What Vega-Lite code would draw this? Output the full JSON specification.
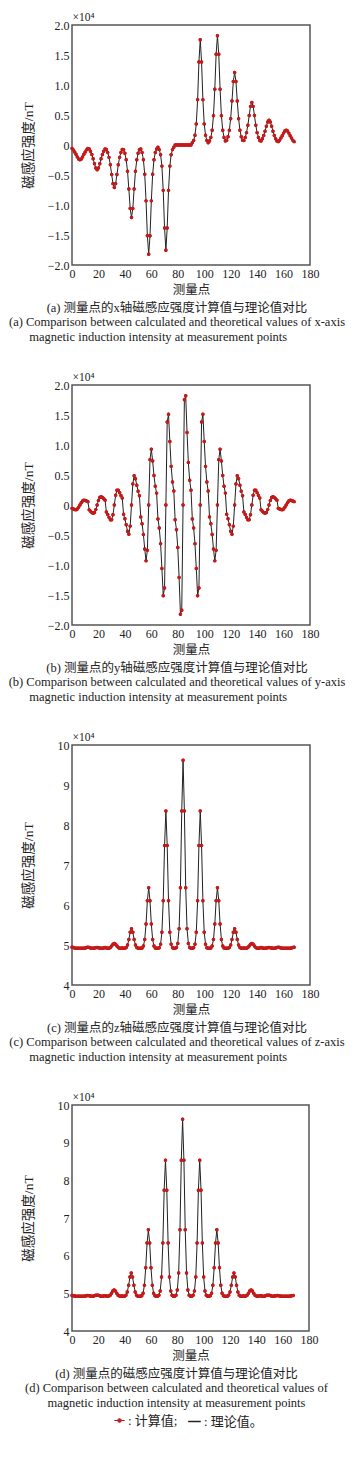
{
"$schema":"https://vega.github.io/schema/vega-lite/v6.json",
"padding":{"left":7,"top":10,"right":0,"bottom":0},
"autosize":{"type":"pad"},
"background":"white",
"bounds":"flush",
"spacing":120,
"datasets":{"m":[
{"p":0,"bx":-0.056,"by":-0.056,"bz":4.943,"bt":4.944},
{"p":1,"bx":-0.081,"by":-0.068,"bz":4.935,"bt":4.936},
{"p":2,"bx":-0.115,"by":-0.076,"bz":4.927,"bt":4.929},
{"p":3,"bx":-0.155,"by":-0.078,"bz":4.921,"bt":4.925},
{"p":4,"bx":-0.198,"by":-0.066,"bz":4.918,"bt":4.923},
{"p":5,"bx":-0.232,"by":-0.039,"bz":4.917,"bt":4.923},
{"p":6,"bx":-0.245,"by":0,"bz":4.917,"bt":4.924},
{"p":7,"bx":-0.232,"by":0.039,"bz":4.917,"bt":4.923},
{"p":8,"bx":-0.198,"by":0.066,"bz":4.918,"bt":4.923},
{"p":9,"bx":-0.155,"by":0.078,"bz":4.921,"bt":4.925},
{"p":10,"bx":-0.115,"by":0.076,"bz":4.927,"bt":4.929},
{"p":11,"bx":-0.081,"by":0.068,"bz":4.935,"bt":4.936},
{"p":12,"bx":-0.056,"by":0.056,"bz":4.943,"bt":4.944},
{"p":13,"bx":-0.068,"by":-0.081,"bz":4.935,"bt":4.936},
{"p":14,"bx":-0.104,"by":-0.104,"bz":4.925,"bt":4.928},
{"p":15,"bx":-0.157,"by":-0.125,"bz":4.919,"bt":4.923},
{"p":16,"bx":-0.229,"by":-0.137,"bz":4.918,"bt":4.925},
{"p":17,"bx":-0.312,"by":-0.125,"bz":4.923,"bt":4.934},
{"p":18,"bx":-0.383,"by":-0.077,"bz":4.931,"bt":4.947},
{"p":19,"bx":-0.411,"by":0,"bz":4.935,"bt":4.952},
{"p":20,"bx":-0.383,"by":0.077,"bz":4.931,"bt":4.947},
{"p":21,"bx":-0.312,"by":0.125,"bz":4.923,"bt":4.934},
{"p":22,"bx":-0.229,"by":0.137,"bz":4.918,"bt":4.925},
{"p":23,"bx":-0.157,"by":0.125,"bz":4.919,"bt":4.923},
{"p":24,"bx":-0.104,"by":0.104,"bz":4.925,"bt":4.928},
{"p":25,"bx":-0.068,"by":0.081,"bz":4.935,"bt":4.936},
{"p":26,"bx":-0.076,"by":-0.115,"bz":4.927,"bt":4.929},
{"p":27,"bx":-0.125,"by":-0.157,"bz":4.919,"bt":4.923},
{"p":28,"bx":-0.206,"by":-0.206,"bz":4.919,"bt":4.928},
{"p":29,"bx":-0.329,"by":-0.247,"bz":4.935,"bt":4.952},
{"p":30,"bx":-0.490,"by":-0.245,"bz":4.973,"bt":5.003},
{"p":31,"bx":-0.644,"by":-0.161,"bz":5.018,"bt":5.062},
{"p":32,"bx":-0.710,"by":0,"bz":5.040,"bt":5.090},
{"p":33,"bx":-0.644,"by":0.161,"bz":5.018,"bt":5.062},
{"p":34,"bx":-0.490,"by":0.245,"bz":4.973,"bt":5.003},
{"p":35,"bx":-0.329,"by":0.247,"bz":4.935,"bt":4.952},
{"p":36,"bx":-0.206,"by":0.206,"bz":4.919,"bt":4.928},
{"p":37,"bx":-0.125,"by":0.157,"bz":4.919,"bt":4.923},
{"p":38,"bx":-0.076,"by":0.115,"bz":4.927,"bt":4.929},
{"p":39,"bx":-0.078,"by":-0.155,"bz":4.921,"bt":4.925},
{"p":40,"bx":-0.137,"by":-0.229,"bz":4.918,"bt":4.925},
{"p":41,"bx":-0.247,"by":-0.329,"bz":4.935,"bt":4.952},
{"p":42,"bx":-0.439,"by":-0.439,"bz":5.000,"bt":5.038},
{"p":43,"bx":-0.733,"by":-0.489,"bz":5.137,"bt":5.212},
{"p":44,"bx":-1.057,"by":-0.352,"bz":5.317,"bt":5.433},
{"p":45,"bx":-1.210,"by":0,"bz":5.408,"bt":5.542},
{"p":46,"bx":-1.057,"by":0.352,"bz":5.317,"bt":5.433},
{"p":47,"bx":-0.733,"by":0.489,"bz":5.137,"bt":5.212},
{"p":48,"bx":-0.439,"by":0.439,"bz":5.000,"bt":5.038},
{"p":49,"bx":-0.247,"by":0.329,"bz":4.935,"bt":4.952},
{"p":50,"bx":-0.137,"by":0.229,"bz":4.918,"bt":4.925},
{"p":51,"bx":-0.078,"by":0.155,"bz":4.921,"bt":4.925},
{"p":52,"bx":-0.066,"by":-0.198,"bz":4.918,"bt":4.923},
{"p":53,"bx":-0.125,"by":-0.312,"bz":4.923,"bt":4.934},
{"p":54,"bx":-0.245,"by":-0.490,"bz":4.973,"bt":5.003},
{"p":55,"bx":-0.489,"by":-0.733,"bz":5.137,"bt":5.212},
{"p":56,"bx":-0.931,"by":-0.931,"bz":5.523,"bt":5.678},
{"p":57,"bx":-1.512,"by":-0.756,"bz":6.106,"bt":6.335},
{"p":58,"bx":-1.820,"by":0,"bz":6.433,"bt":6.686},
{"p":59,"bx":-1.512,"by":0.756,"bz":6.106,"bt":6.335},
{"p":60,"bx":-0.931,"by":0.931,"bz":5.523,"bt":5.678},
{"p":61,"bx":-0.489,"by":0.733,"bz":5.137,"bt":5.212},
{"p":62,"bx":-0.245,"by":0.490,"bz":4.973,"bt":5.003},
{"p":63,"bx":-0.125,"by":0.312,"bz":4.923,"bt":4.934},
{"p":64,"bx":-0.066,"by":0.198,"bz":4.918,"bt":4.923},
{"p":65,"bx":-0.039,"by":-0.232,"bz":4.917,"bt":4.923},
{"p":66,"bx":-0.077,"by":-0.383,"bz":4.931,"bt":4.947},
{"p":67,"bx":-0.161,"by":-0.644,"bz":5.018,"bt":5.062},
{"p":68,"bx":-0.352,"by":-1.057,"bz":5.317,"bt":5.433},
{"p":69,"bx":-0.756,"by":-1.512,"bz":6.106,"bt":6.335},
{"p":70,"bx":-1.382,"by":-1.382,"bz":7.487,"bt":7.737},
{"p":71,"bx":-1.754,"by":0,"bz":8.353,"bt":8.535},
{"p":72,"bx":-1.382,"by":1.382,"bz":7.487,"bt":7.737},
{"p":73,"bx":-0.756,"by":1.512,"bz":6.106,"bt":6.335},
{"p":74,"bx":-0.352,"by":1.057,"bz":5.317,"bt":5.433},
{"p":75,"bx":-0.161,"by":0.644,"bz":5.018,"bt":5.062},
{"p":76,"bx":-0.077,"by":0.383,"bz":4.931,"bt":4.947},
{"p":77,"bx":-0.039,"by":0.232,"bz":4.917,"bt":4.923},
{"p":78,"bx":0,"by":-0.245,"bz":4.917,"bt":4.924},
{"p":79,"bx":0,"by":-0.411,"bz":4.935,"bt":4.952},
{"p":80,"bx":0,"by":-0.710,"bz":5.040,"bt":5.090},
{"p":81,"bx":0,"by":-1.210,"bz":5.408,"bt":5.542},
{"p":82,"bx":0,"by":-1.820,"bz":6.433,"bt":6.686},
{"p":83,"bx":0,"by":-1.754,"bz":8.353,"bt":8.535},
{"p":84,"bx":0,"by":0,"bz":9.620,"bt":9.620},
{"p":85,"bx":0,"by":1.754,"bz":8.353,"bt":8.535},
{"p":86,"bx":0,"by":1.820,"bz":6.433,"bt":6.686},
{"p":87,"bx":0,"by":1.210,"bz":5.408,"bt":5.542},
{"p":88,"bx":0,"by":0.710,"bz":5.040,"bt":5.090},
{"p":89,"bx":0,"by":0.411,"bz":4.935,"bt":4.952},
{"p":90,"bx":0,"by":0.245,"bz":4.917,"bt":4.924},
{"p":91,"bx":0.039,"by":-0.232,"bz":4.917,"bt":4.923},
{"p":92,"bx":0.077,"by":-0.383,"bz":4.931,"bt":4.947},
{"p":93,"bx":0.161,"by":-0.644,"bz":5.018,"bt":5.062},
{"p":94,"bx":0.352,"by":-1.057,"bz":5.317,"bt":5.433},
{"p":95,"bx":0.756,"by":-1.512,"bz":6.106,"bt":6.335},
{"p":96,"bx":1.382,"by":-1.382,"bz":7.487,"bt":7.737},
{"p":97,"bx":1.754,"by":0,"bz":8.353,"bt":8.535},
{"p":98,"bx":1.382,"by":1.382,"bz":7.487,"bt":7.737},
{"p":99,"bx":0.756,"by":1.512,"bz":6.106,"bt":6.335},
{"p":100,"bx":0.352,"by":1.057,"bz":5.317,"bt":5.433},
{"p":101,"bx":0.161,"by":0.644,"bz":5.018,"bt":5.062},
{"p":102,"bx":0.077,"by":0.383,"bz":4.931,"bt":4.947},
{"p":103,"bx":0.039,"by":0.232,"bz":4.917,"bt":4.923},
{"p":104,"bx":0.066,"by":-0.198,"bz":4.918,"bt":4.923},
{"p":105,"bx":0.125,"by":-0.312,"bz":4.923,"bt":4.934},
{"p":106,"bx":0.245,"by":-0.490,"bz":4.973,"bt":5.003},
{"p":107,"bx":0.489,"by":-0.733,"bz":5.137,"bt":5.212},
{"p":108,"bx":0.931,"by":-0.931,"bz":5.523,"bt":5.678},
{"p":109,"bx":1.512,"by":-0.756,"bz":6.106,"bt":6.335},
{"p":110,"bx":1.820,"by":0,"bz":6.433,"bt":6.686},
{"p":111,"bx":1.512,"by":0.756,"bz":6.106,"bt":6.335},
{"p":112,"bx":0.931,"by":0.931,"bz":5.523,"bt":5.678},
{"p":113,"bx":0.489,"by":0.733,"bz":5.137,"bt":5.212},
{"p":114,"bx":0.245,"by":0.490,"bz":4.973,"bt":5.003},
{"p":115,"bx":0.125,"by":0.312,"bz":4.923,"bt":4.934},
{"p":116,"bx":0.066,"by":0.198,"bz":4.918,"bt":4.923},
{"p":117,"bx":0.078,"by":-0.155,"bz":4.921,"bt":4.925},
{"p":118,"bx":0.137,"by":-0.229,"bz":4.918,"bt":4.925},
{"p":119,"bx":0.247,"by":-0.329,"bz":4.935,"bt":4.952},
{"p":120,"bx":0.439,"by":-0.439,"bz":5.000,"bt":5.038},
{"p":121,"bx":0.733,"by":-0.489,"bz":5.137,"bt":5.212},
{"p":122,"bx":1.057,"by":-0.352,"bz":5.317,"bt":5.433},
{"p":123,"bx":1.210,"by":0,"bz":5.408,"bt":5.542},
{"p":124,"bx":1.057,"by":0.352,"bz":5.317,"bt":5.433},
{"p":125,"bx":0.733,"by":0.489,"bz":5.137,"bt":5.212},
{"p":126,"bx":0.439,"by":0.439,"bz":5.000,"bt":5.038},
{"p":127,"bx":0.247,"by":0.329,"bz":4.935,"bt":4.952},
{"p":128,"bx":0.137,"by":0.229,"bz":4.918,"bt":4.925},
{"p":129,"bx":0.078,"by":0.155,"bz":4.921,"bt":4.925},
{"p":130,"bx":0.076,"by":-0.115,"bz":4.927,"bt":4.929},
{"p":131,"bx":0.125,"by":-0.157,"bz":4.919,"bt":4.923},
{"p":132,"bx":0.206,"by":-0.206,"bz":4.919,"bt":4.928},
{"p":133,"bx":0.329,"by":-0.247,"bz":4.935,"bt":4.952},
{"p":134,"bx":0.490,"by":-0.245,"bz":4.973,"bt":5.003},
{"p":135,"bx":0.644,"by":-0.161,"bz":5.018,"bt":5.062},
{"p":136,"bx":0.710,"by":0,"bz":5.040,"bt":5.090},
{"p":137,"bx":0.644,"by":0.161,"bz":5.018,"bt":5.062},
{"p":138,"bx":0.490,"by":0.245,"bz":4.973,"bt":5.003},
{"p":139,"bx":0.329,"by":0.247,"bz":4.935,"bt":4.952},
{"p":140,"bx":0.206,"by":0.206,"bz":4.919,"bt":4.928},
{"p":141,"bx":0.125,"by":0.157,"bz":4.919,"bt":4.923},
{"p":142,"bx":0.076,"by":0.115,"bz":4.927,"bt":4.929},
{"p":143,"bx":0.068,"by":-0.081,"bz":4.935,"bt":4.936},
{"p":144,"bx":0.104,"by":-0.104,"bz":4.925,"bt":4.928},
{"p":145,"bx":0.157,"by":-0.125,"bz":4.919,"bt":4.923},
{"p":146,"bx":0.229,"by":-0.137,"bz":4.918,"bt":4.925},
{"p":147,"bx":0.312,"by":-0.125,"bz":4.923,"bt":4.934},
{"p":148,"bx":0.383,"by":-0.077,"bz":4.931,"bt":4.947},
{"p":149,"bx":0.411,"by":0,"bz":4.935,"bt":4.952},
{"p":150,"bx":0.383,"by":0.077,"bz":4.931,"bt":4.947},
{"p":151,"bx":0.312,"by":0.125,"bz":4.923,"bt":4.934},
{"p":152,"bx":0.229,"by":0.137,"bz":4.918,"bt":4.925},
{"p":153,"bx":0.157,"by":0.125,"bz":4.919,"bt":4.923},
{"p":154,"bx":0.104,"by":0.104,"bz":4.925,"bt":4.928},
{"p":155,"bx":0.068,"by":0.081,"bz":4.935,"bt":4.936},
{"p":156,"bx":0.056,"by":-0.056,"bz":4.943,"bt":4.944},
{"p":157,"bx":0.081,"by":-0.068,"bz":4.935,"bt":4.936},
{"p":158,"bx":0.115,"by":-0.076,"bz":4.927,"bt":4.929},
{"p":159,"bx":0.155,"by":-0.078,"bz":4.921,"bt":4.925},
{"p":160,"bx":0.198,"by":-0.066,"bz":4.918,"bt":4.923},
{"p":161,"bx":0.232,"by":-0.039,"bz":4.917,"bt":4.923},
{"p":162,"bx":0.245,"by":0,"bz":4.917,"bt":4.924},
{"p":163,"bx":0.232,"by":0.039,"bz":4.917,"bt":4.923},
{"p":164,"bx":0.198,"by":0.066,"bz":4.918,"bt":4.923},
{"p":165,"bx":0.155,"by":0.078,"bz":4.921,"bt":4.925},
{"p":166,"bx":0.115,"by":0.076,"bz":4.927,"bt":4.929},
{"p":167,"bx":0.081,"by":0.068,"bz":4.935,"bt":4.936},
{"p":168,"bx":0.056,"by":0.056,"bz":4.943,"bt":4.944}
]},
"vconcat":[
{"width":238,"height":240,"data":{"name":"m"},
 "title":{"text":"(a) 测量点的x轴磁感应强度计算值与理论值对比","subtitle":["(a) Comparison between calculated and theoretical values of x-axis","magnetic induction intensity at measurement points\u00a0\u00a0\u00a0\u00a0\u00a0\u00a0\u00a0\u00a0\u00a0\u00a0\u00a0\u00a0\u200b"]},
 "resolve":{"scale":{"x":"independent"}},
 "encoding":{"y":{"field":"bx","type":"quantitative","scale":{"domain":[-2,2],"nice":false,"zero":false},
   "axis":{"values":[-2,-1.5,-1,-0.5,0,0.5,1,1.5,2],"labelExpr":"datum.value == 0 ? '0' : format(datum.value, '.1f')","title":"磁感应强度/nT"}}},
 "layer":[
  {"mark":{"type":"point","filled":true,"size":12,"opacity":1},"encoding":{
    "x":{"field":"p","type":"quantitative","scale":{"domain":[0,180],"nice":false},"axis":{"values":[0,20,40,60,80,100,120,140,160,180],"title":"测量点"}},
    "color":{"datum":": 计算值;","scale":{"range":["#c41a1a"]},"legend":{"legendX":41,"legendY":1389,"symbolType":"M-1,0L1,0M-0.35,0A0.35,0.35,0,1,1,0.35,0A0.35,0.35,0,1,1,-0.35,0Z","symbolSize":110,"symbolStrokeColor":"#c41a1a","symbolFillColor":"#c41a1a","symbolStrokeWidth":1}}}},
  {"mark":{"type":"line","strokeWidth":1},"encoding":{
    "x":{"field":"p","type":"quantitative","scale":{"domain":[0,180],"nice":false},"axis":null},
    "stroke":{"datum":": 理论值。","scale":{"range":["#222222"]},"legend":{"legendX":115,"legendY":1389,"symbolType":"stroke","symbolSize":160,"symbolStrokeWidth":1.5,"symbolStrokeColor":"#222222"}}}},
  {"mark":{"type":"point","filled":true,"size":12,"opacity":1,"color":"#c41a1a"},"encoding":{
    "x":{"field":"p","type":"quantitative","scale":{"domain":[0,180],"nice":false},"axis":{"orient":"top","labels":false,"title":"×10⁴"}}}}
 ]},
{"width":238,"height":240,"data":{"name":"m"},
 "title":{"text":"(b) 测量点的y轴磁感应强度计算值与理论值对比","subtitle":["(b) Comparison between calculated and theoretical values of y-axis","magnetic induction intensity at measurement points\u00a0\u00a0\u00a0\u00a0\u00a0\u00a0\u00a0\u00a0\u00a0\u00a0\u00a0\u00a0\u200b"]},
 "resolve":{"scale":{"x":"independent"}},
 "encoding":{"y":{"field":"by","type":"quantitative","scale":{"domain":[-2,2],"nice":false,"zero":false},
   "axis":{"values":[-2,-1.5,-1,-0.5,0,0.5,1,1.5,2],"labelExpr":"datum.value == 0 ? '0' : format(datum.value, '.1f')","title":"磁感应强度/nT"}}},
 "layer":[
  {"mark":{"type":"point","filled":true,"size":12,"opacity":1},"encoding":{
    "x":{"field":"p","type":"quantitative","scale":{"domain":[0,180],"nice":false},"axis":{"values":[0,20,40,60,80,100,120,140,160,180],"title":"测量点"}},
    "color":{"datum":": 计算值;","scale":{"range":["#c41a1a"]},"legend":{"legendX":41,"legendY":1389,"symbolType":"M-1,0L1,0M-0.35,0A0.35,0.35,0,1,1,0.35,0A0.35,0.35,0,1,1,-0.35,0Z","symbolSize":110,"symbolStrokeColor":"#c41a1a","symbolFillColor":"#c41a1a","symbolStrokeWidth":1}}}},
  {"mark":{"type":"line","strokeWidth":1},"encoding":{
    "x":{"field":"p","type":"quantitative","scale":{"domain":[0,180],"nice":false},"axis":null},
    "stroke":{"datum":": 理论值。","scale":{"range":["#222222"]},"legend":{"legendX":115,"legendY":1389,"symbolType":"stroke","symbolSize":160,"symbolStrokeWidth":1.5,"symbolStrokeColor":"#222222"}}}},
  {"mark":{"type":"point","filled":true,"size":12,"opacity":1,"color":"#c41a1a"},"encoding":{
    "x":{"field":"p","type":"quantitative","scale":{"domain":[0,180],"nice":false},"axis":{"orient":"top","labels":false,"title":"×10⁴"}}}}
 ]},
{"width":238,"height":240,"data":{"name":"m"},
 "title":{"text":"(c) 测量点的z轴磁感应强度计算值与理论值对比","subtitle":["(c) Comparison between calculated and theoretical values of z-axis","magnetic induction intensity at measurement points\u00a0\u00a0\u00a0\u00a0\u00a0\u00a0\u00a0\u00a0\u00a0\u00a0\u00a0\u00a0\u200b"]},
 "resolve":{"scale":{"x":"independent"}},
 "encoding":{"y":{"field":"bz","type":"quantitative","scale":{"domain":[4,10],"nice":false,"zero":false},
   "axis":{"values":[4,5,6,7,8,9,10],"format":"d","title":"磁感应强度/nT"}}},
 "layer":[
  {"mark":{"type":"point","filled":true,"size":12,"opacity":1},"encoding":{
    "x":{"field":"p","type":"quantitative","scale":{"domain":[0,180],"nice":false},"axis":{"values":[0,20,40,60,80,100,120,140,160,180],"title":"测量点"}},
    "color":{"datum":": 计算值;","scale":{"range":["#c41a1a"]},"legend":{"legendX":41,"legendY":1389,"symbolType":"M-1,0L1,0M-0.35,0A0.35,0.35,0,1,1,0.35,0A0.35,0.35,0,1,1,-0.35,0Z","symbolSize":110,"symbolStrokeColor":"#c41a1a","symbolFillColor":"#c41a1a","symbolStrokeWidth":1}}}},
  {"mark":{"type":"line","strokeWidth":1},"encoding":{
    "x":{"field":"p","type":"quantitative","scale":{"domain":[0,180],"nice":false},"axis":null},
    "stroke":{"datum":": 理论值。","scale":{"range":["#222222"]},"legend":{"legendX":115,"legendY":1389,"symbolType":"stroke","symbolSize":160,"symbolStrokeWidth":1.5,"symbolStrokeColor":"#222222"}}}},
  {"mark":{"type":"point","filled":true,"size":12,"opacity":1,"color":"#c41a1a"},"encoding":{
    "x":{"field":"p","type":"quantitative","scale":{"domain":[0,180],"nice":false},"axis":{"orient":"top","labels":false,"title":"×10⁴"}}}}
 ]},
{"width":237,"height":226,"data":{"name":"m"},
 "title":{"text":"(d) 测量点的磁感应强度计算值与理论值对比","subtitle":["(d) Comparison between calculated and theoretical values of","magnetic induction intensity at measurement points"]},
 "resolve":{"scale":{"x":"independent"}},
 "encoding":{"y":{"field":"bt","type":"quantitative","scale":{"domain":[4,10],"nice":false,"zero":false},
   "axis":{"values":[4,5,6,7,8,9,10],"format":"d","title":"磁感应强度/nT"}}},
 "layer":[
  {"mark":{"type":"point","filled":true,"size":12,"opacity":1},"encoding":{
    "x":{"field":"p","type":"quantitative","scale":{"domain":[0,180],"nice":false},"axis":{"values":[0,20,40,60,80,100,120,140,160,180],"title":"测量点"}},
    "color":{"datum":": 计算值;","scale":{"range":["#c41a1a"]},"legend":{"legendX":41,"legendY":1389,"symbolType":"M-1,0L1,0M-0.35,0A0.35,0.35,0,1,1,0.35,0A0.35,0.35,0,1,1,-0.35,0Z","symbolSize":110,"symbolStrokeColor":"#c41a1a","symbolFillColor":"#c41a1a","symbolStrokeWidth":1}}}},
  {"mark":{"type":"line","strokeWidth":1},"encoding":{
    "x":{"field":"p","type":"quantitative","scale":{"domain":[0,180],"nice":false},"axis":null},
    "stroke":{"datum":": 理论值。","scale":{"range":["#222222"]},"legend":{"legendX":115,"legendY":1389,"symbolType":"stroke","symbolSize":160,"symbolStrokeWidth":1.5,"symbolStrokeColor":"#222222"}}}},
  {"mark":{"type":"point","filled":true,"size":12,"opacity":1,"color":"#c41a1a"},"encoding":{
    "x":{"field":"p","type":"quantitative","scale":{"domain":[0,180],"nice":false},"axis":{"orient":"top","labels":false,"title":"×10⁴"}}}}
 ]}
],
"config":{
 "view":{"stroke":"#555555","strokeWidth":1.5},
 "axis":{"domain":false,"ticks":false,"grid":false,"labelOverlap":false,"labelFont":"Liberation Serif","labelFontSize":12,"labelColor":"#222222","labelPadding":3,"titleFont":"Liberation Serif, Noto Sans CJK SC","titleFontSize":12.5,"titleFontWeight":"normal","titleColor":"#222222"},
 "axisBottom":{"titlePadding":4,"labelFlush":false},
 "axisTop":{"titleAnchor":"start","titleAlign":"left","titlePadding":3,"titleFont":"Liberation Serif","titleFontSize":11.5},
 "axisY":{"titlePadding":12,"minExtent":25,"maxExtent":25,"titleFontSize":13.5},
 "title":{"orient":"bottom","anchor":"middle","frame":"group","dx":-14,"offset":6,"font":"Liberation Serif, Noto Sans CJK SC","fontSize":12.5,"fontWeight":"normal","color":"#222222","subtitleFont":"Liberation Serif","subtitleFontSize":12.5,"subtitleColor":"#222222","subtitleLineHeight":14.5,"subtitlePadding":2},
 "legend":{"orient":"none","direction":"horizontal","title":null,"labelFont":"Liberation Serif, Noto Sans CJK SC","labelFontSize":13,"labelColor":"#222222","labelOffset":2,"padding":0}
}
}
